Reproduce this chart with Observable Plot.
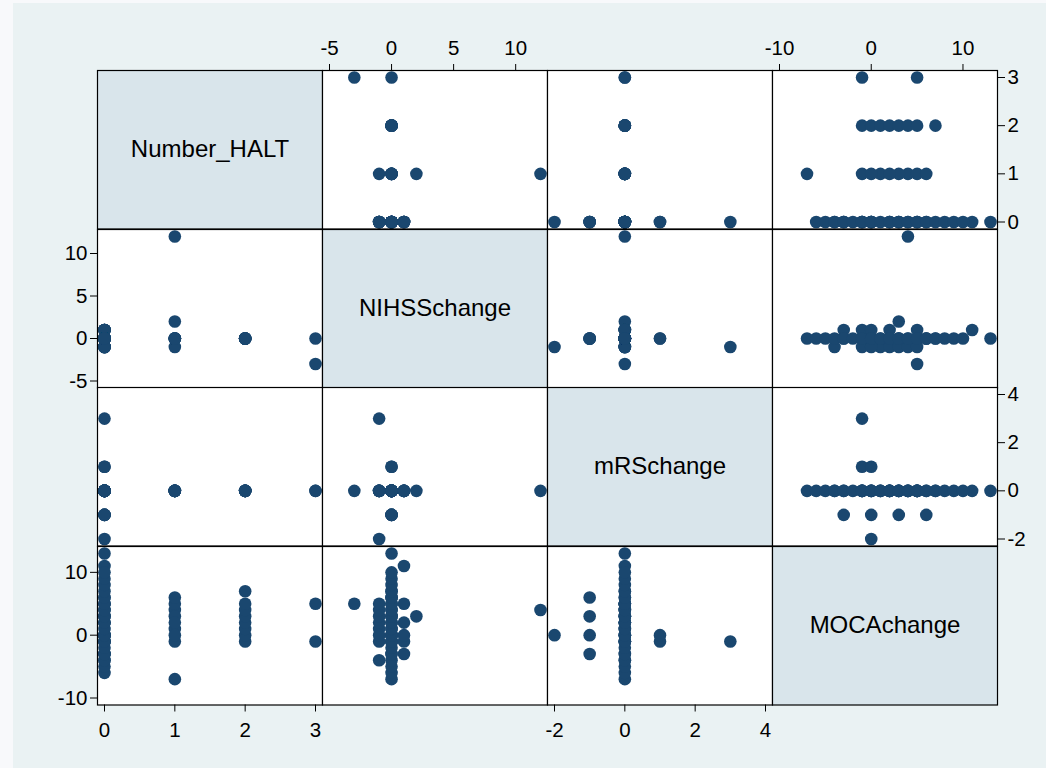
<!DOCTYPE html>
<html><head><meta charset="utf-8">
<script src="https://cdn.jsdelivr.net/npm/d3@7"></script>
<script src="https://cdn.jsdelivr.net/npm/@observablehq/plot@0.6"></script>
<style>
html,body{margin:0;padding:0;background:#f8f9fb;}
#chart{position:relative;width:1046px;height:768px;overflow:hidden;font-family:"Liberation Sans",Arial,sans-serif;}
#bg{position:absolute;left:13px;top:3px;right:0;bottom:0;background:#eaf2f3;}
#chart svg{position:absolute;}
</style></head><body><div id="chart"><div id="bg"></div></div>
<script>
// Variable names (diagonal labels)
const varNames = ["Number_HALT", "NIHSSchange", "mRSchange", "MOCAchange"];

// Observations (one entry per subject, same order in every array)
const halt  = [3,3, 2,2,2,2,2,2,2,2, 1,1,1,1,1,1,1,1,1,
               0, 0,0, 0,0,0,0, 0, 0,0,0,0,0,0, 0,0,0,0,0,
               0,0,0,0,0,0,0,0,0,0,0,0,0,0,0,0,0,0];
const nihss = [-3,0, 0,0,0,0,0,0,0,0, 12,2,-1,0,0,0,0,0,0,
               -1, 0,0, 0,0,0,0, -1, 1,1,1,1,1,1, -1,-1,-1,-1,-1,
               0,0,0,0,0,0,0,0,0,0,0,0,0,0,0,0,0,0];
const mrs   = [0,0, 0,0,0,0,0,0,0,0, 0,0,0,0,0,0,0,0,0,
               3, 1,1, -1,-1,-1,-1, -2, 0,0,0,0,0,0, 0,0,0,0,0,
               0,0,0,0,0,0,0,0,0,0,0,0,0,0,0,0,0,0];
const moca  = [5,-1, -1,0,1,2,3,4,5,7, 4,3,1,-7,-1,0,2,5,6,
               -1, -1,0, -3,0,3,6, 0, -3,-1,0,2,5,11, -4,2,3,4,5,
               -6,-5,-4,-3,-2,-1,0,1,2,3,4,5,6,7,8,9,10,13];

// Axis ranges and tick values per variable
const domains = [[0, 3], [-5, 12], [-2, 4], [-10, 13]];
const tickVals = [[0, 1, 2, 3], [-5, 0, 5, 10], [-2, 0, 2, 4], [-10, 0, 10]];

const vars = [halt, nihss, mrs, moca];
const idx = d3.range(halt.length);

const gridLeft = 97.3, gridTop = 70, cw = 225, ch = 158.5, M = 45;
const chart = document.getElementById("chart");
const fmt = d => String(d);
const fontFam = '"Liberation Sans", Arial, sans-serif';
const tickFont = 20.5;

for (let i = 0; i < 4; i++) {
  for (let j = 0; j < 4; j++) {
    const marks = [];
    const diag = i === j;
    marks.push(Plot.frame({fill: diag ? "#d9e5eb" : "white"}));
    if (i === 0 && (j === 1 || j === 3))
      marks.push(Plot.axisX({anchor: "top", ticks: tickVals[j], tickFormat: fmt, tickSize: 7, tickPadding: 9, fontSize: tickFont}));
    if (i === 3 && (j === 0 || j === 2))
      marks.push(Plot.axisX({anchor: "bottom", ticks: tickVals[j], tickFormat: fmt, tickSize: 7, tickPadding: 10, fontSize: tickFont}));
    if (j === 0 && (i === 1 || i === 3))
      marks.push(Plot.axisY({anchor: "left", ticks: tickVals[i], tickFormat: fmt, tickSize: 7, tickPadding: 3, fontSize: tickFont}));
    if (j === 3 && (i === 0 || i === 2))
      marks.push(Plot.axisY({anchor: "right", ticks: tickVals[i], tickFormat: fmt, tickSize: 7, tickPadding: 3, fontSize: tickFont}));
    if (diag) {
      marks.push(Plot.text([varNames[i]], {frameAnchor: "middle", text: d => d, fontSize: 24, fill: "black"}));
    } else {
      marks.push(Plot.dot(idx, {x: k => vars[j][k], y: k => vars[i][k], r: 6.3, fill: "#1a476f"}));
    }
    marks.push(Plot.frame({stroke: "black", strokeWidth: 1.2}));
    const svg = Plot.plot({
      width: cw + 2 * M, height: ch + 2 * M,
      marginTop: M, marginBottom: M, marginLeft: M, marginRight: M,
      x: {domain: domains[j], inset: 7, axis: null},
      y: {domain: domains[i], inset: 7, axis: null},
      style: {background: "transparent", overflow: "visible", color: "black", fontFamily: fontFam, fontSize: "20px"},
      marks
    });
    // enforce the tick label size directly on the rendered label elements
    svg.querySelectorAll('g[aria-label*="tick label"]').forEach(g => {
      g.setAttribute("font-size", tickFont);
      g.style.setProperty("font-size", tickFont + "px", "important");
      g.querySelectorAll("text").forEach(t => {
        t.setAttribute("font-size", tickFont);
        t.style.setProperty("font-size", tickFont + "px", "important");
      });
    });
    svg.style.left = (gridLeft + j * cw - M) + "px";
    svg.style.top = (gridTop + i * ch - M) + "px";
    svg.style.maxWidth = "none";
    chart.appendChild(svg);
  }
}
</script></body></html>
